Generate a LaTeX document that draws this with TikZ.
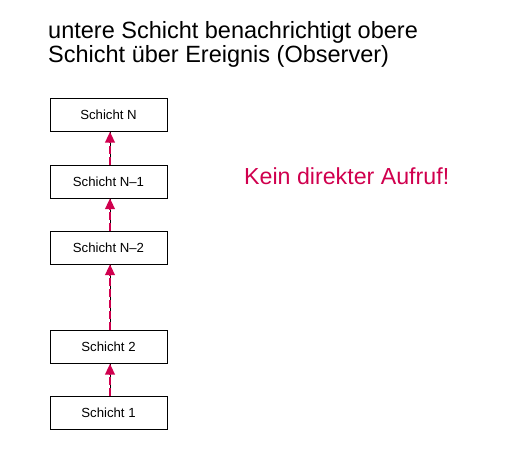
\documentclass[tikz,border=0pt]{standalone}
\usepackage{fontspec}
\setmainfont{Liberation Sans}
\usetikzlibrary{arrows.meta,positioning}
\definecolor{alertred}{RGB}{208,0,78}
\tikzset{
  layer/.style={draw, thin, minimum width=117pt, minimum height=33pt, inner sep=0pt, font=\fontsize{13.2}{15}\selectfont},
  headline/.style={anchor=base west, inner sep=0pt, font=\fontsize{23.5}{28}\selectfont},
  notify/.style={alertred, line width=2.4pt, dash pattern=on 8pt off 3pt, -{Triangle[length=11pt,width=9.5pt]}},
}
\begin{document}
\begin{tikzpicture}[x=1pt, y=-1pt]
    \useasboundingbox (0,0) rectangle (505,452);
    \node[headline] (t1) at (48,39) {untere Schicht benachrichtigt obere};
    \node[headline] (t2) at (48,63) {Schicht über Ereignis (Observer)};
    \node[layer] (lN) at (108.5,115) {Schicht N};
    \node[layer] (lN1) at (108.5,181.5) {Schicht N–1};
    \node[layer] (lN2) at (108.5,247.5) {Schicht N–2};
    \node[layer] (l2) at (108.5,347) {Schicht 2};
    \node[layer] (l1) at (108.5,413) {Schicht 1};
    \node[headline, text=alertred, font=\fontsize{23.2}{28}\selectfont] (hint) at (244,184) {Kein direkter Aufruf!};
    % thin line behind, dashed arrow on top
    \foreach \lo/\hi in {lN1/lN, lN2/lN1, l2/lN2, l1/l2} {
      \draw[thin] ([xshift=1.5pt]\lo.north) -- ([xshift=1.5pt]\hi.south);
      \draw[notify] ([xshift=1.5pt]\lo.north) -- ([xshift=1.5pt]\hi.south);
    }
\end{tikzpicture}
\end{document}
